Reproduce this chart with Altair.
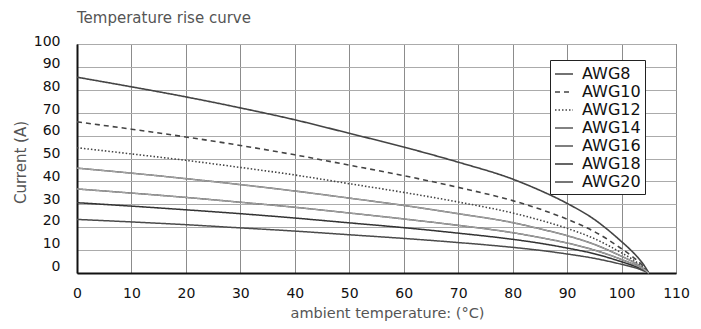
import altair as alt
import pandas as pd

temps = [0, 10, 20, 30, 40, 50, 60, 70, 80, 85, 90, 95, 100, 102, 103, 104, 105]
series = ["AWG8", "AWG10", "AWG12", "AWG14", "AWG16", "AWG18", "AWG20"]
awg8 = [85.5, 81.3, 76.9, 72.1, 66.9, 61.0, 55.0, 48.4, 41.0, 36.1, 30.4, 23.4, 13.7, 9.3, 6.8, 3.8, 0]
awg10 = [66.0, 62.8, 59.4, 55.7, 51.6, 47.1, 42.5, 37.4, 31.6, 27.9, 23.5, 18.1, 10.6, 7.2, 5.2, 2.9, 0]
awg12 = [54.7, 52.0, 49.2, 46.1, 42.8, 39.0, 35.2, 31.0, 26.2, 23.1, 19.5, 15.0, 8.8, 6.0, 4.3, 2.4, 0]
awg14 = [45.8, 43.6, 41.2, 38.6, 35.8, 32.7, 29.5, 25.9, 22.0, 19.3, 16.3, 12.5, 7.3, 5.0, 3.6, 2.0, 0]
awg16 = [36.7, 34.9, 33.0, 30.9, 28.7, 26.2, 23.6, 20.8, 17.6, 15.5, 13.1, 10.0, 5.9, 4.0, 2.9, 1.6, 0]
awg18 = [30.7, 29.2, 27.6, 25.9, 24.0, 21.9, 19.8, 17.4, 14.7, 13.0, 10.9, 8.4, 4.9, 3.3, 2.4, 1.4, 0]
awg20 = [23.4, 22.3, 21.1, 19.7, 18.3, 16.7, 15.1, 13.3, 11.2, 9.9, 8.3, 6.4, 3.8, 2.6, 1.9, 1.0, 0]
x_ticks = list(range(0, 111, 10))
y_ticks = list(range(0, 101, 10))

rows = []
for name, vals in zip(series, [awg8, awg10, awg12, awg14, awg16, awg18, awg20]):
    for i, (t, v) in enumerate(zip(temps, vals)):
        rows.append({"series": name, "temp": t, "current": v, "order": i})
df = pd.DataFrame(rows)

FONT = "DejaVu Sans"

colors = ["#444444", "#444444", "#444444", "#5a5a5a", "#555555", "#333333", "#4a4a4a"]
dashes = [[1, 0], [5, 4], [1.5, 2], [1, 0], [1, 0], [1, 0], [1, 0]]
widths = [1.6, 1.5, 1.7, 2.6, 2.6, 2.0, 2.0]

x_enc = alt.X("temp:Q", scale=alt.Scale(domain=[0, 110], nice=False),
              axis=alt.Axis(values=x_ticks, title="ambient temperature: (°C)",
                            grid=True, gridColor="#8c8c8c", gridWidth=1,
                            ticks=False, tickSize=0, labelPadding=13,
                            labelFontSize=14, labelColor="#111", labelFont=FONT,
                            labelOverlap=False,
                            domainColor="#111", domainWidth=2,
                            titleFont=FONT, titleFontSize=14.5, titleColor="#555",
                            titleFontWeight="normal",
                            titleX=310, titleY=40, titleBaseline="middle",
                            titleAlign="center", labelFlush=False))
y_enc = alt.Y("current:Q", scale=alt.Scale(domain=[0, 100], nice=False),
              axis=alt.Axis(values=y_ticks, title="Current (A)",
                            grid=True, gridColor="#ababab", gridWidth=1,
                            ticks=False, tickSize=0, labelPadding=17,
                            labelOffset={"condition": [
                                {"test": "datum.value >= 70", "value": -3},
                                {"test": "datum.value >= 30", "value": -4.8}],
                                "value": -6.3},
                            labelOverlap=False,
                            labelFontSize=14, labelColor="#111", labelFont=FONT,
                            domainColor="#111", domainWidth=2,
                            titleFont=FONT, titleFontSize=15, titleColor="#555",
                            titleFontWeight="normal",
                            titleX=-57, titleY=118, titleAngle=-90,
                            titleBaseline="middle", titleAlign="center",
                            labelFlush=False))

legend = alt.Legend(title=None, orient="none", legendX=473, legendY=16,
                    fillColor="white", strokeColor="#222", padding=4,
                    symbolType="stroke", symbolSize=324, rowPadding=-3.2,
                    labelFontSize=16, labelFont=FONT, labelColor="#111",
                    labelOffset=8)

base = alt.Chart(df)
lines = base.mark_line(interpolate="monotone").encode(
    x=x_enc, y=y_enc,
    order="order:Q",
    color=alt.Color("series:N", scale=alt.Scale(domain=series, range=colors), legend=legend),
    strokeDash=alt.StrokeDash("series:N", scale=alt.Scale(domain=series, range=dashes), legend=legend),
    strokeWidth=alt.StrokeWidth("series:N", scale=alt.Scale(domain=series, range=widths), legend=legend),
)

inner = base.transform_filter(
    alt.FieldOneOfPredicate(field="series", oneOf=["AWG14", "AWG16"])
).mark_line(interpolate="monotone", color="#bdbdbd", strokeWidth=0.8).encode(
    x=x_enc, y=y_enc, detail="series:N", order="order:Q"
)

chart = alt.layer(lines, inner).properties(
    width=599, height=229,
    title=alt.TitleParams("Temperature rise curve", anchor="start", frame="group",
                          font=FONT, fontSize=15, color="#555", fontWeight="normal",
                          offset=20, dy=11.5),
    autosize=alt.AutoSizeParams(type="none"),
    padding={"left": 69, "top": 36, "right": 17, "bottom": 48},
).configure_view(stroke="#222", strokeWidth=1)

chart.save("out.html", embed_options={"renderer": "svg", "actions": False})
